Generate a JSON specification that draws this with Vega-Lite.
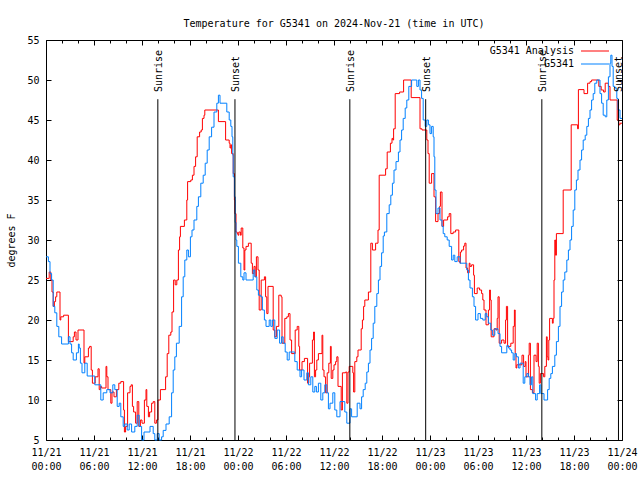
{
  "$schema": "https://vega.github.io/schema/vega-lite/v6.json",
  "width": 576,
  "height": 400,
  "autosize": {"type": "none"},
  "padding": {"left": 46, "top": 40, "right": 18, "bottom": 40},
  "background": "white",
  "title": {
    "text": "Temperature for G5341 on 2024-Nov-21 (time in UTC)",
    "font": "DejaVu Sans Mono",
    "fontSize": 10,
    "fontWeight": "normal",
    "color": "black",
    "anchor": "middle",
    "frame": "group",
    "baseline": "alphabetic",
    "offset": -2
  },
  "config": {
    "view": {"stroke": "black", "strokeWidth": 1},
    "axis": {
      "domain": false,
      "grid": false,
      "tickColor": "black",
      "tickWidth": 1,
      "labelColor": "black",
      "labelFont": "DejaVu Sans Mono",
      "labelFontSize": 10,
      "titleFont": "DejaVu Sans Mono",
      "titleFontSize": 10,
      "titleFontWeight": "normal",
      "titleColor": "black"
    }
  },
  "datasets": {
    "analysis": [
      {"hour":0,"temp":25.2},{"hour":0.4,"temp":26.0},{"hour":0.6,"temp":25.0},{"hour":0.75,"temp":23.5},{"hour":0.9,"temp":21.7},{"hour":1.05,"temp":22.3},{"hour":1.2,"temp":22.9},{"hour":1.35,"temp":23.5},{"hour":1.75,"temp":20.0},{"hour":1.85,"temp":20.4},{"hour":2.2,"temp":20.6},{"hour":2.8,"temp":17.3},{"hour":3.4,"temp":17.9},{"hour":3.55,"temp":18.5},{"hour":3.75,"temp":17.5},{"hour":4.0,"temp":18.75},{"hour":4.75,"temp":14.6},{"hour":4.85,"temp":15.4},{"hour":5.3,"temp":16.5},{"hour":5.45,"temp":16.7},{"hour":5.65,"temp":13.75},{"hour":5.8,"temp":12.1},{"hour":6.15,"temp":12.9},{"hour":6.5,"temp":13.9},{"hour":6.65,"temp":11.3},{"hour":6.8,"temp":11.7},{"hour":6.95,"temp":11.5},{"hour":7.5,"temp":14.2},{"hour":7.6,"temp":12.9},{"hour":7.75,"temp":11.3},{"hour":8.1,"temp":9.6},{"hour":8.25,"temp":11.0},{"hour":8.5,"temp":10.4},{"hour":8.8,"temp":11.3},{"hour":9.1,"temp":12.1},{"hour":9.35,"temp":12.3},{"hour":9.7,"temp":8.75},{"hour":9.8,"temp":6.0},{"hour":9.95,"temp":6.7},{"hour":10.2,"temp":10.9},{"hour":10.5,"temp":11.7},{"hour":10.65,"temp":11.9},{"hour":10.8,"temp":9.2},{"hour":10.95,"temp":8.5},{"hour":11.2,"temp":7.1},{"hour":11.4,"temp":9.8},{"hour":11.6,"temp":6.7},{"hour":11.8,"temp":7.5},{"hour":12.0,"temp":7.1},{"hour":12.3,"temp":10.0},{"hour":12.5,"temp":11.3},{"hour":12.6,"temp":9.2},{"hour":12.8,"temp":7.9},{"hour":12.95,"temp":8.5},{"hour":13.2,"temp":9.6},{"hour":13.4,"temp":9.8},{"hour":13.6,"temp":7.1},{"hour":13.8,"temp":7.5},{"hour":14.0,"temp":10.0},{"hour":14.3,"temp":11.3},{"hour":14.95,"temp":12.9},{"hour":15.15,"temp":15.8},{"hour":15.35,"temp":18.1},{"hour":15.6,"temp":18.5},{"hour":15.75,"temp":21.0},{"hour":15.95,"temp":25.0},{"hour":16.15,"temp":24.4},{"hour":16.35,"temp":25.0},{"hour":16.55,"temp":28.75},{"hour":16.7,"temp":30.4},{"hour":16.8,"temp":31.7},{"hour":17.3,"temp":32.5},{"hour":17.6,"temp":35.0},{"hour":17.7,"temp":37.3},{"hour":18.1,"temp":37.5},{"hour":18.3,"temp":38.1},{"hour":18.5,"temp":39.2},{"hour":18.7,"temp":40.4},{"hour":18.9,"temp":42.9},{"hour":19.2,"temp":43.5},{"hour":19.4,"temp":43.75},{"hour":19.55,"temp":45.2},{"hour":19.75,"temp":45.6},{"hour":19.85,"temp":46.25},{"hour":21.55,"temp":44.8},{"hour":22.45,"temp":42.5},{"hour":22.9,"temp":42.1},{"hour":23.0,"temp":41.5},{"hour":23.1,"temp":41.9},{"hour":23.2,"temp":40.8},{"hour":23.4,"temp":38.3},{"hour":23.55,"temp":35.0},{"hour":23.6,"temp":33.3},{"hour":23.75,"temp":31.0},{"hour":23.9,"temp":30.8},{"hour":24.0,"temp":30.6},{"hour":24.1,"temp":31.0},{"hour":24.3,"temp":30.6},{"hour":24.4,"temp":31.5},{"hour":24.6,"temp":29.0},{"hour":24.75,"temp":26.25},{"hour":24.85,"temp":28.75},{"hour":25.0,"temp":29.2},{"hour":25.3,"temp":29.6},{"hour":25.65,"temp":27.1},{"hour":25.8,"temp":25.8},{"hour":26.0,"temp":26.7},{"hour":26.15,"temp":25.4},{"hour":26.3,"temp":27.9},{"hour":26.5,"temp":26.25},{"hour":26.65,"temp":21.25},{"hour":26.9,"temp":25.0},{"hour":27.3,"temp":25.4},{"hour":27.45,"temp":22.9},{"hour":27.6,"temp":20.8},{"hour":27.75,"temp":24.2},{"hour":28.4,"temp":18.75},{"hour":28.6,"temp":17.9},{"hour":28.8,"temp":19.2},{"hour":29.1,"temp":23.1},{"hour":29.4,"temp":22.9},{"hour":29.5,"temp":17.1},{"hour":29.85,"temp":20.2},{"hour":30.1,"temp":20.4},{"hour":30.3,"temp":20.8},{"hour":30.5,"temp":17.5},{"hour":30.7,"temp":15.8},{"hour":31.15,"temp":18.75},{"hour":31.4,"temp":19.2},{"hour":31.6,"temp":16.7},{"hour":31.7,"temp":13.75},{"hour":32.0,"temp":14.8},{"hour":32.3,"temp":15.2},{"hour":32.7,"temp":12.1},{"hour":32.85,"temp":12.9},{"hour":32.95,"temp":14.6},{"hour":33.3,"temp":17.5},{"hour":33.45,"temp":18.5},{"hour":33.55,"temp":12.9},{"hour":33.7,"temp":13.75},{"hour":33.85,"temp":15.0},{"hour":34.05,"temp":15.8},{"hour":34.5,"temp":18.1},{"hour":34.6,"temp":13.75},{"hour":34.75,"temp":12.9},{"hour":34.95,"temp":10.9},{"hour":35.15,"temp":13.4},{"hour":35.35,"temp":14.6},{"hour":35.55,"temp":16.7},{"hour":35.65,"temp":12.7},{"hour":35.85,"temp":13.75},{"hour":36.0,"temp":14.4},{"hour":36.2,"temp":14.8},{"hour":36.35,"temp":15.4},{"hour":36.5,"temp":11.7},{"hour":36.9,"temp":8.75},{"hour":37.05,"temp":13.4},{"hour":37.45,"temp":13.5},{"hour":37.6,"temp":9.6},{"hour":37.75,"temp":13.5},{"hour":37.9,"temp":14.2},{"hour":38.35,"temp":13.4},{"hour":38.45,"temp":11.0},{"hour":38.6,"temp":14.8},{"hour":38.85,"temp":15.4},{"hour":39.0,"temp":16.25},{"hour":39.4,"temp":18.9},{"hour":39.55,"temp":20.0},{"hour":39.7,"temp":21.7},{"hour":39.85,"temp":22.5},{"hour":40.3,"temp":23.5},{"hour":40.6,"temp":29.6},{"hour":40.8,"temp":28.75},{"hour":41.2,"temp":29.6},{"hour":41.5,"temp":31.25},{"hour":41.65,"temp":38.1},{"hour":42.45,"temp":38.9},{"hour":42.65,"temp":41.0},{"hour":43.05,"temp":42.1},{"hour":43.25,"temp":42.7},{"hour":43.35,"temp":42.5},{"hour":43.45,"temp":43.9},{"hour":43.65,"temp":48.3},{"hour":44.2,"temp":48.5},{"hour":44.7,"temp":50.0},{"hour":45.65,"temp":47.8},{"hour":46.75,"temp":43.9},{"hour":47.0,"temp":43.75},{"hour":47.6,"temp":42.5},{"hour":47.75,"temp":40.8},{"hour":47.9,"temp":37.1},{"hour":48.2,"temp":38.3},{"hour":48.5,"temp":35.4},{"hour":48.7,"temp":32.3},{"hour":49.0,"temp":33.3},{"hour":49.2,"temp":34.2},{"hour":49.3,"temp":36.0},{"hour":49.5,"temp":31.7},{"hour":49.7,"temp":32.5},{"hour":50.2,"temp":32.9},{"hour":50.4,"temp":33.3},{"hour":50.6,"temp":30.8},{"hour":50.9,"temp":31.0},{"hour":51.2,"temp":31.25},{"hour":51.6,"temp":27.3},{"hour":51.75,"temp":27.1},{"hour":51.8,"temp":28.5},{"hour":51.95,"temp":28.75},{"hour":52.2,"temp":29.25},{"hour":52.35,"temp":29.6},{"hour":52.5,"temp":26.5},{"hour":52.7,"temp":25.9},{"hour":52.9,"temp":27.1},{"hour":53.0,"temp":26.7},{"hour":53.2,"temp":26.9},{"hour":53.45,"temp":25.6},{"hour":53.55,"temp":23.3},{"hour":53.9,"temp":24.0},{"hour":54.2,"temp":23.75},{"hour":54.45,"temp":23.3},{"hour":54.6,"temp":22.5},{"hour":54.75,"temp":21.25},{"hour":55.0,"temp":19.4},{"hour":55.3,"temp":21.25},{"hour":55.45,"temp":23.75},{"hour":55.55,"temp":22.5},{"hour":55.65,"temp":17.9},{"hour":56.0,"temp":18.9},{"hour":56.25,"temp":18.75},{"hour":56.4,"temp":20.2},{"hour":56.5,"temp":22.9},{"hour":56.65,"temp":17.1},{"hour":56.95,"temp":17.5},{"hour":57.25,"temp":17.1},{"hour":57.45,"temp":20.0},{"hour":57.55,"temp":21.7},{"hour":57.7,"temp":16.7},{"hour":58.1,"temp":17.1},{"hour":58.4,"temp":19.2},{"hour":58.55,"temp":21.25},{"hour":58.65,"temp":15.8},{"hour":58.75,"temp":14.0},{"hour":58.85,"temp":14.4},{"hour":59.5,"temp":15.6},{"hour":59.7,"temp":14.2},{"hour":59.9,"temp":14.8},{"hour":60.0,"temp":12.9},{"hour":60.3,"temp":15.6},{"hour":60.4,"temp":17.1},{"hour":60.55,"temp":11.3},{"hour":60.8,"temp":10.9},{"hour":61.0,"temp":15.6},{"hour":61.25,"temp":14.8},{"hour":61.4,"temp":17.1},{"hour":61.55,"temp":14.2},{"hour":61.65,"temp":12.1},{"hour":61.8,"temp":13.3},{"hour":62.2,"temp":12.9},{"hour":62.35,"temp":14.2},{"hour":62.55,"temp":17.9},{"hour":62.65,"temp":15.4},{"hour":62.75,"temp":15.0},{"hour":62.85,"temp":17.5},{"hour":62.95,"temp":20.2},{"hour":63.3,"temp":19.6},{"hour":63.4,"temp":20.2},{"hour":63.5,"temp":25.0},{"hour":63.6,"temp":30.0},{"hour":63.7,"temp":28.1},{"hour":63.8,"temp":30.8},{"hour":64.65,"temp":36.25},{"hour":65.65,"temp":44.4},{"hour":66.45,"temp":43.9},{"hour":66.55,"temp":48.8},{"hour":67.25,"temp":48.3},{"hour":67.7,"temp":49.6},{"hour":68.0,"temp":49.8},{"hour":68.2,"temp":50.0},{"hour":69.1,"temp":49.2},{"hour":69.4,"temp":48.75},{"hour":69.7,"temp":48.5},{"hour":69.9,"temp":49.6},{"hour":70.3,"temp":49.2},{"hour":70.5,"temp":47.5},{"hour":71.4,"temp":45.0},{"hour":71.6,"temp":44.4},{"hour":71.75,"temp":44.6},{"hour":72,"temp":44.6}
    ],
    "station": [
      {"hour":0,"temp":27.9},{"hour":0.3,"temp":27.3},{"hour":0.5,"temp":25.8},{"hour":0.7,"temp":25.0},{"hour":0.9,"temp":21.7},{"hour":1.1,"temp":20.9},{"hour":1.35,"temp":19.2},{"hour":1.6,"temp":17.9},{"hour":1.95,"temp":17.0},{"hour":2.8,"temp":17.9},{"hour":3.0,"temp":17.0},{"hour":3.2,"temp":15.9},{"hour":3.4,"temp":15.0},{"hour":3.8,"temp":15.9},{"hour":4.05,"temp":17.0},{"hour":4.15,"temp":16.5},{"hour":4.3,"temp":14.6},{"hour":4.5,"temp":13.4},{"hour":4.85,"temp":14.6},{"hour":5.15,"temp":13.0},{"hour":6.1,"temp":11.9},{"hour":6.85,"temp":10.0},{"hour":7.15,"temp":10.9},{"hour":7.6,"temp":11.3},{"hour":8.0,"temp":10.9},{"hour":8.35,"temp":11.9},{"hour":8.6,"temp":11.3},{"hour":8.9,"temp":9.2},{"hour":9.15,"temp":9.6},{"hour":9.35,"temp":7.9},{"hour":9.65,"temp":6.7},{"hour":9.85,"temp":7.0},{"hour":10.15,"temp":6.25},{"hour":10.4,"temp":7.0},{"hour":10.7,"temp":6.0},{"hour":11.1,"temp":6.7},{"hour":11.4,"temp":8.1},{"hour":11.65,"temp":6.7},{"hour":11.95,"temp":5.0},{"hour":12.25,"temp":6.0},{"hour":13.0,"temp":6.7},{"hour":13.4,"temp":5.8},{"hour":13.6,"temp":5.0},{"hour":13.9,"temp":5.8},{"hour":14.15,"temp":5.0},{"hour":14.45,"temp":5.4},{"hour":14.65,"temp":6.2},{"hour":15.0,"temp":7.0},{"hour":15.4,"temp":7.9},{"hour":15.7,"temp":10.9},{"hour":15.9,"temp":13.75},{"hour":16.1,"temp":15.4},{"hour":16.3,"temp":17.1},{"hour":16.65,"temp":19.2},{"hour":16.95,"temp":22.9},{"hour":17.15,"temp":25.4},{"hour":17.35,"temp":27.5},{"hour":17.6,"temp":28.75},{"hour":17.8,"temp":27.9},{"hour":18.05,"temp":30.4},{"hour":18.25,"temp":31.25},{"hour":18.5,"temp":32.5},{"hour":18.85,"temp":34.2},{"hour":19.05,"temp":35.4},{"hour":19.35,"temp":37.1},{"hour":19.65,"temp":38.1},{"hour":19.9,"temp":39.6},{"hour":20.15,"temp":41.25},{"hour":20.4,"temp":42.9},{"hour":20.7,"temp":44.1},{"hour":21.0,"temp":46.0},{"hour":21.35,"temp":47.1},{"hour":21.55,"temp":48.1},{"hour":21.75,"temp":47.1},{"hour":22.6,"temp":46.0},{"hour":22.9,"temp":45.0},{"hour":23.1,"temp":44.2},{"hour":23.25,"temp":42.9},{"hour":23.35,"temp":40.6},{"hour":23.4,"temp":37.9},{"hour":23.55,"temp":35.4},{"hour":23.65,"temp":32.2},{"hour":23.75,"temp":30.0},{"hour":23.85,"temp":29.2},{"hour":24.05,"temp":27.1},{"hour":24.35,"temp":25.4},{"hour":24.6,"temp":25.0},{"hour":24.75,"temp":25.9},{"hour":25.0,"temp":25.0},{"hour":25.9,"temp":26.25},{"hour":26.1,"temp":25.4},{"hour":26.35,"temp":23.75},{"hour":26.55,"temp":23.1},{"hour":26.85,"temp":22.9},{"hour":27.05,"temp":21.25},{"hour":27.3,"temp":20.0},{"hour":27.5,"temp":19.2},{"hour":27.9,"temp":20.0},{"hour":28.1,"temp":19.2},{"hour":28.3,"temp":20.0},{"hour":28.6,"temp":17.7},{"hour":28.9,"temp":18.75},{"hour":29.2,"temp":17.1},{"hour":29.45,"temp":17.9},{"hour":29.65,"temp":17.1},{"hour":29.9,"temp":16.0},{"hour":30.15,"temp":15.0},{"hour":30.4,"temp":16.0},{"hour":31.1,"temp":14.8},{"hour":31.4,"temp":13.75},{"hour":31.75,"temp":12.9},{"hour":31.95,"temp":13.75},{"hour":32.25,"temp":12.5},{"hour":32.6,"temp":13.4},{"hour":32.8,"temp":11.9},{"hour":33.1,"temp":12.9},{"hour":33.35,"temp":11.0},{"hour":33.6,"temp":11.7},{"hour":33.8,"temp":11.0},{"hour":34.05,"temp":12.1},{"hour":34.35,"temp":10.0},{"hour":34.6,"temp":10.9},{"hour":34.85,"temp":11.9},{"hour":35.1,"temp":10.9},{"hour":35.3,"temp":8.9},{"hour":35.5,"temp":9.6},{"hour":35.85,"temp":10.9},{"hour":36.1,"temp":8.75},{"hour":36.35,"temp":7.9},{"hour":36.75,"temp":9.8},{"hour":37.35,"temp":8.5},{"hour":37.6,"temp":7.1},{"hour":38.0,"temp":8.9},{"hour":38.2,"temp":7.9},{"hour":38.9,"temp":9.6},{"hour":39.25,"temp":8.9},{"hour":39.45,"temp":10.4},{"hour":39.65,"temp":11.3},{"hour":39.9,"temp":12.1},{"hour":40.1,"temp":13.5},{"hour":40.3,"temp":14.6},{"hour":40.5,"temp":16.25},{"hour":40.7,"temp":17.7},{"hour":40.9,"temp":19.6},{"hour":41.1,"temp":21.7},{"hour":41.35,"temp":23.3},{"hour":41.55,"temp":25.0},{"hour":41.75,"temp":26.7},{"hour":41.95,"temp":28.4},{"hour":42.15,"temp":30.5},{"hour":42.3,"temp":31.0},{"hour":42.6,"temp":33.3},{"hour":42.9,"temp":34.4},{"hour":43.1,"temp":35.6},{"hour":43.3,"temp":37.1},{"hour":43.5,"temp":38.75},{"hour":43.75,"temp":39.8},{"hour":44.05,"temp":41.0},{"hour":44.25,"temp":42.5},{"hour":44.45,"temp":43.75},{"hour":44.65,"temp":45.2},{"hour":44.9,"temp":46.5},{"hour":45.1,"temp":47.5},{"hour":45.35,"temp":49.2},{"hour":45.7,"temp":50.0},{"hour":46.35,"temp":49.2},{"hour":46.55,"temp":50.0},{"hour":46.75,"temp":48.75},{"hour":46.95,"temp":47.7},{"hour":47.15,"temp":45.0},{"hour":47.4,"temp":44.2},{"hour":47.6,"temp":45.0},{"hour":47.8,"temp":44.4},{"hour":48.0,"temp":43.3},{"hour":48.2,"temp":44.2},{"hour":48.4,"temp":42.9},{"hour":48.5,"temp":40.4},{"hour":48.6,"temp":36.25},{"hour":48.75,"temp":33.3},{"hour":49.0,"temp":34.0},{"hour":49.25,"temp":32.5},{"hour":49.5,"temp":31.7},{"hour":49.65,"temp":30.8},{"hour":49.85,"temp":30.4},{"hour":50.15,"temp":30.0},{"hour":50.4,"temp":29.2},{"hour":50.7,"temp":27.5},{"hour":50.9,"temp":28.1},{"hour":51.1,"temp":27.3},{"hour":51.4,"temp":27.9},{"hour":51.75,"temp":27.1},{"hour":52.6,"temp":26.25},{"hour":52.8,"temp":25.0},{"hour":53.0,"temp":24.0},{"hour":53.3,"temp":22.9},{"hour":53.5,"temp":21.7},{"hour":53.7,"temp":20.0},{"hour":54.0,"temp":20.8},{"hour":54.3,"temp":20.2},{"hour":54.6,"temp":20.0},{"hour":54.9,"temp":20.8},{"hour":55.1,"temp":20.4},{"hour":55.3,"temp":19.6},{"hour":55.6,"temp":18.75},{"hour":55.8,"temp":18.1},{"hour":56.1,"temp":18.9},{"hour":56.5,"temp":18.3},{"hour":56.75,"temp":16.7},{"hour":56.95,"temp":15.9},{"hour":57.6,"temp":16.8},{"hour":57.8,"temp":16.5},{"hour":58.0,"temp":16.25},{"hour":58.2,"temp":15.9},{"hour":58.4,"temp":15.0},{"hour":58.6,"temp":15.8},{"hour":58.8,"temp":15.4},{"hour":59.05,"temp":14.0},{"hour":59.25,"temp":14.6},{"hour":59.65,"temp":12.1},{"hour":59.85,"temp":12.9},{"hour":60.1,"temp":13.3},{"hour":60.3,"temp":12.9},{"hour":60.5,"temp":11.9},{"hour":60.7,"temp":12.9},{"hour":60.85,"temp":10.8},{"hour":61.2,"temp":10.0},{"hour":61.4,"temp":10.8},{"hour":61.7,"temp":11.9},{"hour":61.85,"temp":10.8},{"hour":62.25,"temp":10.0},{"hour":62.7,"temp":11.3},{"hour":62.9,"temp":12.7},{"hour":63.1,"temp":13.3},{"hour":63.3,"temp":14.2},{"hour":63.6,"temp":15.6},{"hour":63.8,"temp":17.3},{"hour":64.05,"temp":19.2},{"hour":64.25,"temp":21.7},{"hour":64.45,"temp":23.5},{"hour":64.65,"temp":25.0},{"hour":64.85,"temp":26.0},{"hour":65.1,"temp":27.5},{"hour":65.3,"temp":28.75},{"hour":65.5,"temp":30.0},{"hour":65.7,"temp":31.7},{"hour":65.9,"temp":33.75},{"hour":66.1,"temp":36.25},{"hour":66.3,"temp":37.5},{"hour":66.5,"temp":38.75},{"hour":66.75,"temp":40.0},{"hour":66.95,"temp":41.25},{"hour":67.15,"temp":42.5},{"hour":67.4,"temp":43.1},{"hour":67.6,"temp":44.2},{"hour":67.8,"temp":45.2},{"hour":68.0,"temp":46.25},{"hour":68.2,"temp":47.5},{"hour":68.4,"temp":48.3},{"hour":68.6,"temp":49.6},{"hour":68.85,"temp":50.0},{"hour":69.25,"temp":48.3},{"hour":69.45,"temp":47.1},{"hour":69.65,"temp":45.6},{"hour":69.9,"temp":45.4},{"hour":70.1,"temp":47.5},{"hour":70.3,"temp":50.4},{"hour":70.5,"temp":52.1},{"hour":70.6,"temp":53.1},{"hour":70.75,"temp":51.7},{"hour":70.9,"temp":49.2},{"hour":71.1,"temp":49.0},{"hour":71.35,"temp":47.7},{"hour":71.5,"temp":46.25},{"hour":71.75,"temp":45.2},{"hour":72,"temp":45.2}
    ],
    "sun": [
      {"hour": 13.98, "event": "Sunrise"},
      {"hour": 23.62, "event": "Sunset"},
      {"hour": 37.98, "event": "Sunrise"},
      {"hour": 47.46, "event": "Sunset"},
      {"hour": 61.98, "event": "Sunrise"},
      {"hour": 71.56, "event": "Sunset"}
    ]
  },
  "layer": [
    {
      "data": {"name": "analysis"},
      "mark": {"type": "line", "interpolate": "step-after", "strokeWidth": 1},
      "encoding": {
        "x": {
          "field": "hour", "type": "quantitative",
          "scale": {"domain": [0, 72], "nice": false, "zero": false},
          "axis": {
            "orient": "bottom",
            "title": null,
            "values": [0,2,4,6,8,10,12,14,16,18,20,22,24,26,28,30,32,34,36,38,40,42,44,46,48,50,52,54,56,58,60,62,64,66,68,70,72],
            "labelExpr": "datum.value % 6 === 0 ? ['11/' + (21 + floor(datum.value / 24)), ((datum.value % 24) < 10 ? '0' : '') + (datum.value % 24) + ':00'] : ''",
            "labelOverlap": false,
            "labelFlush": false,
            "labelBound": false,
            "labelLineHeight": 14,
            "labelPadding": 12,
            "tickSize": {"condition": {"test": "datum.value % 6 === 0", "value": -5}, "value": -3}
          }
        },
        "y": {
          "field": "temp", "type": "quantitative",
          "scale": {"domain": [5, 55], "nice": false, "zero": false},
          "axis": {
            "orient": "left",
            "title": "degrees F",
            "values": [5,10,15,20,25,30,35,40,45,50,55],
            "tickSize": -5,
            "labelPadding": 12,
            "titlePadding": 10
          }
        },
        "color": {
          "datum": "G5341 Analysis",
          "type": "nominal",
          "scale": {"domain": ["G5341 Analysis", "G5341"], "range": ["#ff0000", "#0080ff"]},
          "legend": {
            "title": null,
            "orient": "none",
            "legendX": 500,
            "legendY": 6,
            "padding": 0,
            "symbolType": "M-2.8,-0.1H2.8V0.1H-2.8Z",
            "symbolSize": 100,
            "symbolStrokeWidth": 0,
            "labelAlign": "right",
            "labelOffset": -26,
            "symbolOffset": 44,
            "labelFont": "DejaVu Sans Mono",
            "labelFontSize": 10,
            "labelColor": "black",
            "rowPadding": 3,
            "encode": {
              "symbols": {
                "update": {
                  "fill": {"scale": "color", "field": "value"},
                  "fillOpacity": {"value": 1},
                  "opacity": {"value": 1},
                  "strokeWidth": {"value": 0}
                }
              }
            }
          }
        }
      }
    },
    {
      "data": {"name": "station"},
      "mark": {"type": "line", "interpolate": "step-after", "strokeWidth": 1},
      "encoding": {
        "x": {
          "field": "hour", "type": "quantitative",
          "axis": {
            "orient": "top",
            "title": null,
            "labels": false,
            "values": [0,2,4,6,8,10,12,14,16,18,20,22,24,26,28,30,32,34,36,38,40,42,44,46,48,50,52,54,56,58,60,62,64,66,68,70,72],
            "tickSize": {"condition": {"test": "datum.value % 6 === 0", "value": -5}, "value": -3}
          }
        },
        "y": {
          "field": "temp", "type": "quantitative",
          "axis": {
            "orient": "right",
            "title": null,
            "labels": false,
            "values": [5,10,15,20,25,30,35,40,45,50,55],
            "tickSize": -5
          }
        },
        "color": {"datum": "G5341", "type": "nominal"}
      }
    },
    {
      "data": {"name": "sun"},
      "mark": {"type": "rule", "color": "black", "strokeWidth": 1},
      "encoding": {
        "x": {"field": "hour", "type": "quantitative", "axis": null},
        "y": {"datum": 47.6, "type": "quantitative", "axis": null},
        "y2": {"datum": 5}
      }
    },
    {
      "data": {"name": "sun"},
      "mark": {"type": "text", "angle": 270, "align": "left", "baseline": "middle", "font": "DejaVu Sans Mono", "fontSize": 10, "color": "black", "dy": 1},
      "encoding": {
        "x": {"field": "hour", "type": "quantitative", "axis": null},
        "y": {"datum": 48.5, "type": "quantitative", "axis": null},
        "text": {"field": "event"}
      }
    }
  ],
  "resolve": {"axis": {"x": "independent", "y": "independent"}}
}
